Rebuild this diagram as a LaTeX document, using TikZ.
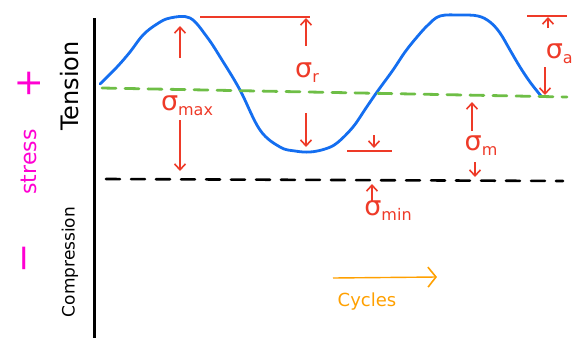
\documentclass[tikz,border=0pt]{standalone}
\usepackage{fontspec}
\setmainfont{DejaVu Sans}
\usetikzlibrary{arrows.meta}
\definecolor{cred}{RGB}{238,58,40}
\definecolor{cblue}{RGB}{20,110,240}
\definecolor{cgreen}{RGB}{110,190,70}
\definecolor{cmag}{RGB}{255,0,210}
\definecolor{corange}{RGB}{255,160,0}
\newcommand{\sig}[1]{\fontsize{27}{30}\selectfont σ\raisebox{-5pt}{\fontsize{16}{18}\selectfont #1}}
\tikzset{
  redarrow/.style={cred, line width=1.6pt, -{Straight Barb[length=6pt,width=11pt,line width=1.6pt]}},
  redline/.style={cred, line width=1.2pt},
  redlabel/.style={cred, inner sep=0pt},
}
\begin{document}
\begin{tikzpicture}[x=1pt,y=-1pt]
\useasboundingbox (0,0) rectangle (574,338);
% axis
\coordinate (axtop) at (94,18);
\coordinate (axbot) at (94,338);
\draw[line width=3pt] (axtop) -- (axbot);
% blue curve
\draw[cblue, line width=2.8pt, line cap=round] plot[smooth, tension=0.6] coordinates {
 (100,84) (117,67) (130,52) (143,35) (157,24) (170,18) (190,18) (207,37) (222,60) (240,90)
 (260,130) (280,147) (295,151) (310,152) (325,149) (337,143) (353,127) (366,108) (377,92)
 (393,70) (405,52) (417,37) (428,25) (440,16) (460,15) (478,16) (490,22) (500,33)
 (510,50) (520,67) (530,82) (541,96)};
% green dashed mean line
\coordinate (g1) at (102,88);
\coordinate (g2) at (567,97);
\draw[cgreen, line width=2.8pt, dash pattern=on 14pt off 9pt, line cap=round] (g1) -- (g2);
% black dashed min line
\coordinate (k1) at (106,179);
\coordinate (k2) at (563,181);
\draw[black, line width=2.6pt, dash pattern=on 14pt off 11pt, line cap=round] (k1) -- (k2);
% sigma max
\coordinate (mx1) at (180,58); \coordinate (mx2) at (180,26);
\draw[redarrow] (mx1) -- (mx2);
\node[redlabel] (smax) at (187,106) {\sig{max}};
\coordinate (mx3) at (180,120); \coordinate (mx4) at (180,171);
\draw[redarrow] (mx3) -- (mx4);
% sigma r
\coordinate (rt1) at (200,17); \coordinate (rt2) at (310,17);
\draw[redline] (rt1) -- (rt2);
\coordinate (r1) at (306,46); \coordinate (r2) at (306,18);
\draw[redarrow] (r1) -- (r2);
\node[redlabel] (sr) at (307,73) {\sig{r}};
\coordinate (r3) at (306,113); \coordinate (r4) at (306,147);
\draw[redarrow] (r3) -- (r4);
% small line near trough
\coordinate (b1) at (347,151); \coordinate (b2) at (392,151);
\draw[redline] (b1) -- (b2);
\coordinate (b3) at (374,135); \coordinate (b4) at (374,148);
\draw[redarrow] (b3) -- (b4);
% sigma m
\coordinate (m1) at (472,131); \coordinate (m2) at (472,102);
\draw[redarrow] (m1) -- (m2);
\node[redlabel] (sm) at (481,146) {\sig{m}};
\coordinate (m3) at (475,162); \coordinate (m4) at (475,177);
\draw[redarrow] (m3) -- (m4);
% sigma min
\coordinate (n1) at (372,201); \coordinate (n2) at (372,184);
\draw[redarrow] (n1) -- (n2);
\node[redlabel] (smin) at (388,211) {\sig{min}};
% sigma a
\coordinate (at1) at (527,16); \coordinate (at2) at (567,16);
\draw[redline] (at1) -- (at2);
\coordinate (a1) at (548,28); \coordinate (a2) at (548,17);
\draw[redarrow] (a1) -- (a2);
\node[redlabel, anchor=east] (sa) at (573,54) {\sig{a}};
\coordinate (a3) at (545,67); \coordinate (a4) at (545,95);
\draw[redarrow] (a3) -- (a4);
% left labels
\node[rotate=90, font=\fontsize{24}{26}\selectfont, inner sep=0pt] (tension) at (70,86) {Tension};
\node[rotate=90, font=\fontsize{17}{19}\selectfont, inner sep=0pt] (comp) at (70,262) {Compression};
\node[rotate=90, cmag, font=\fontsize{36}{36}\selectfont, inner sep=0pt] (plus) at (29,83) {+};
\node[rotate=90, cmag, font=\fontsize{22}{24}\selectfont, inner sep=0pt] (stress) at (29,162) {stress};
\node[rotate=90, cmag, font=\fontsize{36}{36}\selectfont, inner sep=0pt] (minus) at (29,258) {−};
% cycles
\coordinate (c1) at (333,278); \coordinate (c2) at (437,277);
\draw[corange, line width=1.4pt, -{Straight Barb[length=8pt,width=20pt,line width=1.6pt]}] (c1) -- (c2);
\node[corange, font=\fontsize{18}{20}\selectfont, inner sep=0pt] (cyc) at (367,302) {Cycles};
\end{tikzpicture}
\end{document}
